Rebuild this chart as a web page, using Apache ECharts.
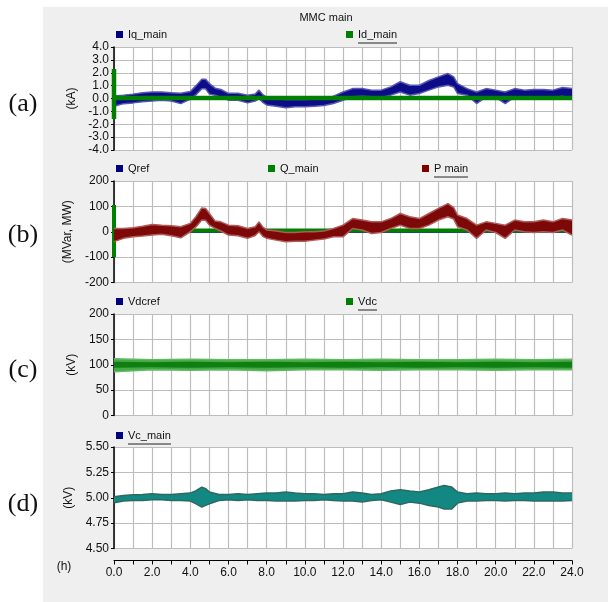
<!DOCTYPE html>
<html>
<head>
<meta charset="utf-8">
<script src="https://cdn.jsdelivr.net/npm/echarts@6/dist/echarts.min.js"></script>
<style>
html, body { margin: 0; padding: 0; background: #fff; }
#chart { width: 608px; height: 602px; }
</style>
</head>
<body>
<div id="chart"></div>
<script>
// time samples (h) for panels (a) and (b)
const hoursAB = [0, 0.5, 1, 1.5, 2, 2.5, 3, 3.5, 4, 4.3, 4.6, 4.8, 5, 5.3, 5.6, 6, 6.5, 7, 7.4, 7.6, 7.8, 8,
  8.5, 9, 9.5, 10, 10.5, 11, 11.5, 12, 12.5, 13, 13.5, 14, 14.5, 15, 15.5, 16, 16.5, 17, 17.5, 17.8, 18,
  18.5, 19, 19.5, 20, 20.5, 21, 21.5, 22, 22.5, 23, 23.5, 24];

// (a) Iq_main envelope (kA)
const iqHigh = [0.20, 0.26, 0.34, 0.44, 0.50, 0.50, 0.44, 0.40, 0.55, 1.00, 1.50, 1.50, 1.16, 0.80, 0.70, 0.40,
  0.40, 0.26, 0.35, 0.65, 0.30, 0.08, 0.00, -0.08, -0.08, -0.08, -0.03, 0.00, 0.18, 0.50, 0.77, 0.77, 0.65,
  0.65, 0.90, 1.30, 1.03, 1.03, 1.40, 1.68, 1.94, 1.68, 1.16, 0.77, 0.50, 0.77, 0.65, 0.50, 0.77, 0.65,
  0.70, 0.70, 0.65, 0.85, 0.77];
const iqLow = [-0.60, -0.40, -0.34, -0.26, -0.20, -0.13, -0.20, -0.40, -0.05, 0.30, 0.75, 0.75, 0.34, 0.26, 0.10,
  -0.13, -0.13, -0.34, -0.20, 0.00, -0.30, -0.50, -0.60, -0.72, -0.65, -0.65, -0.60, -0.55, -0.39, -0.13,
  0.13, 0.18, 0.13, 0.08, 0.26, 0.50, 0.26, 0.39, 0.65, 0.90, 1.03, 0.90, 0.39, 0.26, -0.39, 0.13, 0.08,
  -0.39, 0.13, 0.08, 0.08, 0.13, 0.08, 0.18, 0.00];
// (a) Id_main (start spike, then flat)
const idHours = [0, 0, 0, 24];
const idMain = [2.3, -1.6, 0.03, 0.03];

// (b) P main envelope (MW)
const pHigh = [13, 13, 16, 22, 29, 26, 24, 20, 33, 60, 94, 92, 72, 42, 39, 26, 24, 13, 20, 39, 18, 7, 3, -3, -3,
  0, 0, 3, 13, 26, 52, 46, 39, 39, 52, 72, 59, 52, 72, 92, 111, 95, 66, 52, 26, 39, 33, 26, 46, 39, 39, 46,
  39, 52, 46];
const pLow = [-39, -26, -20, -17, -13, -10, -16, -24, 0, 20, 46, 45, 26, 13, 3, -13, -16, -26, -15, 0, -18, -26,
  -33, -39, -37, -37, -33, -29, -20, -20, 13, 7, -7, -3, 13, 26, 13, 13, 26, 46, 59, 50, 20, 7, -26, 7, -3,
  -26, 7, 0, -3, 0, -3, 7, -13];
// (b) Q_main and Qref
const qHours = [0, 0, 0, 24];
const qMain = [105, -100, 5, 5];
const refHours = [0, 24];
const qRef = [0, 0];

// (c) Vdc envelope (kV)
const hoursC = [0, 2, 4, 6, 8, 10, 12, 14, 16, 18, 20, 22, 24];
const vdcHigh = [112, 110, 111, 110, 110, 111, 110, 111, 110, 110, 111, 110, 111];
const vdcLow = [86, 90, 89, 90, 88, 90, 90, 89, 90, 90, 89, 90, 90];
const vdcCoreHigh = [106, 105, 106, 105, 106, 105, 106, 105, 106, 105, 106, 105, 106];
const vdcCoreLow = [94, 95, 94, 95, 94, 95, 94, 95, 94, 95, 94, 95, 94];
const vdcRef = [100, 100];

// (d) Vc_main envelope (kV)
const hoursD = [0, 0.5, 1, 1.5, 2, 2.5, 3, 3.5, 4, 4.3, 4.6, 4.8, 5, 5.5, 6, 6.5, 7, 7.5, 8, 8.5, 9, 9.5, 10,
  10.5, 11, 11.5, 12, 12.5, 13, 13.5, 14, 14.5, 15, 15.5, 16, 16.5, 17, 17.3, 17.7, 18, 18.5, 19, 19.5, 20,
  20.5, 21, 21.5, 22, 22.5, 23, 23.5, 24];
const vcHigh = [5.010, 5.023, 5.030, 5.033, 5.040, 5.033, 5.033, 5.040, 5.046, 5.070, 5.105, 5.090, 5.056,
  5.033, 5.033, 5.040, 5.033, 5.040, 5.046, 5.046, 5.056, 5.046, 5.040, 5.040, 5.033, 5.040, 5.040,
  5.056, 5.046, 5.033, 5.040, 5.066, 5.079, 5.066, 5.056, 5.079, 5.105, 5.120, 5.105, 5.056,
  5.040, 5.046, 5.040, 5.040, 5.046, 5.040, 5.046, 5.046, 5.056, 5.056, 5.046, 5.046];
const vcLow = [4.950, 4.967, 4.973, 4.973, 4.980, 4.980, 4.973, 4.973, 4.967, 4.940, 4.908, 4.925, 4.941,
  4.973, 4.980, 4.973, 4.980, 4.973, 4.973, 4.967, 4.967, 4.967, 4.973, 4.973, 4.980, 4.973, 4.967,
  4.967, 4.957, 4.973, 4.980, 4.957, 4.934, 4.957, 4.947, 4.924, 4.908, 4.890, 4.890, 4.947,
  4.967, 4.967, 4.973, 4.973, 4.967, 4.973, 4.973, 4.967, 4.967, 4.967, 4.967, 4.973];

const FONT = "'Liberation Sans', Arial, sans-serif";
const GRID_LINE = { lineStyle: { color: "#bdbdbd", width: 1.2 } };

const pairs = (xs, ys) => xs.map((x, i) => [x, ys[i]]);

// filled envelope between low and high, drawn through the axis scales
function band(idx, xs, low, high, fill, z) {
  return {
    type: "custom",
    xAxisIndex: idx,
    yAxisIndex: idx,
    silent: true,
    z,
    data: [[xs[0], low[0]]],
    renderItem: (params, api) => {
      const pts = xs.map((x, i) => api.coord([x, high[i]]));
      for (let i = xs.length - 1; i >= 0; i--) pts.push(api.coord([xs[i], low[i]]));
      return { type: "polygon", shape: { points: pts }, style: { fill } };
    },
  };
}

function edge(idx, name, xs, ys, color, z) {
  return {
    name,
    type: "line",
    xAxisIndex: idx,
    yAxisIndex: idx,
    data: pairs(xs, ys),
    symbol: "none",
    silent: true,
    z,
    lineStyle: { color, width: 1.5 },
    itemStyle: { color },
  };
}

function plainLine(idx, name, xs, ys, color, width, z) {
  return {
    name,
    type: "line",
    xAxisIndex: idx,
    yAxisIndex: idx,
    data: pairs(xs, ys),
    symbol: "none",
    silent: true,
    z,
    lineStyle: { color, width, cap: "butt" },
    itemStyle: { color },
  };
}

function legend(name, x, yc, color) {
  return {
    data: [{ name, itemStyle: { color, borderWidth: 0 } }],
    left: x,
    top: yc - 7,
    padding: 0,
    icon: "rect",
    itemWidth: 7,
    itemHeight: 7,
    selectedMode: false,
    textStyle: { fontFamily: FONT, fontSize: 11, color: "#111" },
  };
}

const grids = [47, 181, 314, 447].map((top, i) => ({
  left: 114, top, width: 458, height: i === 0 ? 103 : 101.5,
  show: true, backgroundColor: "#fff", borderWidth: 0,
}));

const xAxes = grids.map((g, i) => ({
  type: "value", gridIndex: i, min: 0, max: 24, interval: 1,
  axisLine: { show: i === 3, onZero: false, lineStyle: { color: "#000", width: 1 } },
  axisTick: { show: i === 3, length: 4, lineStyle: { color: "#000" } },
  axisLabel: {
    show: i === 3, margin: 6, fontFamily: FONT, fontSize: 12, color: "#111",
    formatter: (v) => (v % 2 === 0 ? v.toFixed(1) : ""),
  },
  offset: i === 3 ? 12 : 0,
  splitLine: { show: true, ...GRID_LINE },
}));

const yDefs = [
  { min: -4, max: 4, interval: 1, name: "(kA)", fmt: (v) => v.toFixed(1) },
  { min: -200, max: 200, interval: 100, name: "(MVar, MW)", fmt: (v) => String(v) },
  { min: 0, max: 200, interval: 50, name: "(kV)", fmt: (v) => String(v) },
  { min: 4.5, max: 5.5, interval: 0.25, name: "(kV)", fmt: (v) => v.toFixed(2) },
];
const yAxes = yDefs.map((d, i) => ({
  type: "value", gridIndex: i, min: d.min, max: d.max, interval: d.interval,
  name: d.name, nameLocation: "middle", nameRotate: 90, nameGap: 26,
  nameTextStyle: { fontFamily: FONT, fontSize: 12, color: "#111" },
  axisLine: { show: true, onZero: false, lineStyle: { color: "#000", width: 1.5 } },
  axisTick: { show: true, length: 3, lineStyle: { color: "#000" } },
  axisLabel: { margin: 5, fontFamily: FONT, fontSize: 12, color: "#111", formatter: d.fmt },
  splitLine: { show: true, ...GRID_LINE },
}));

const navy = "#000080";
const green = "#008000";
const maroon = "#800000";

const series = [
  // (a)
  band(0, hoursAB, iqLow, iqHigh, "#0c0c88", 2),
  edge(0, "Iq_main", hoursAB, iqHigh, "#5858b2", 3),
  edge(0, "Iq_main low", hoursAB, iqLow, "#5858b2", 3),
  plainLine(0, "Id_main", idHours, idMain, green, 4.5, 5),
  // (b)
  plainLine(1, "Qref", refHours, qRef, navy, 2, 1),
  plainLine(1, "Q_main", qHours, qMain, green, 4, 2),
  band(1, hoursAB, pLow, pHigh, "#7c0808", 3),
  edge(1, "P main", hoursAB, pHigh, "#b05a5a", 4),
  edge(1, "P main low", hoursAB, pLow, "#b05a5a", 4),
  // (c)
  plainLine(2, "Vdcref", refHours, vdcRef, navy, 2, 1),
  band(2, hoursC, vdcLow, vdcHigh, "#46a846", 2),
  edge(2, "Vdc", hoursC, vdcHigh, "#5fba5f", 3),
  edge(2, "Vdc low", hoursC, vdcLow, "#5fba5f", 3),
  band(2, hoursC, vdcCoreLow, vdcCoreHigh, "#0f7f12", 4),
  // (d)
  band(3, hoursD, vcLow, vcHigh, "#138781", 2),
  edge(3, "Vc_main", hoursD, vcHigh, "#2c6a61", 3),
  edge(3, "Vc_main low", hoursD, vcLow, "#2c6a61", 3),
];

const legends = [
  legend("Iq_main", 116, 36, navy),
  legend("Id_main", 346, 36, green),
  legend("Qref", 116, 170, navy),
  legend("Q_main", 268, 170, green),
  legend("P main", 422, 170, maroon),
  legend("Vdcref", 116, 303, navy),
  legend("Vdc", 346, 303, green),
  legend("Vc_main", 116, 437, navy),
];

const txt = (text, x, y, size, family, align) => ({
  type: "text", x, y, silent: true,
  style: { text, fontSize: size, fontFamily: family, fill: "#111", align: align || "center", verticalAlign: "middle" },
});
const underline = (x1, x2, y) => ({
  type: "line", silent: true, shape: { x1, y1: y, x2, y2: y }, style: { stroke: "#222", lineWidth: 1 },
});

const chart = echarts.init(document.getElementById("chart"));
chart.setOption({
  animation: false,
  backgroundColor: "#efefef",
  grid: grids,
  xAxis: xAxes,
  yAxis: yAxes,
  legend: legends,
  series,
  graphic: [
    { type: "rect", silent: true, shape: { x: 0, y: 0, width: 43, height: 602 }, style: { fill: "#fff" } },
    { type: "rect", silent: true, shape: { x: 0, y: 0, width: 608, height: 7 }, style: { fill: "#fff" } },
    txt("MMC main", 326, 18, 11, FONT),
    txt("(h)", 64, 567, 12, FONT),
    txt("(a)", 23, 104, 26, "'Liberation Serif', serif"),
    txt("(b)", 23, 235, 26, "'Liberation Serif', serif"),
    txt("(c)", 23, 370, 26, "'Liberation Serif', serif"),
    txt("(d)", 23, 504, 26, "'Liberation Serif', serif"),
    underline(358, 397, 43),
    underline(434, 468, 177),
    underline(358, 377, 310),
    underline(128, 171, 444),
  ],
});
</script>
</body>
</html>
